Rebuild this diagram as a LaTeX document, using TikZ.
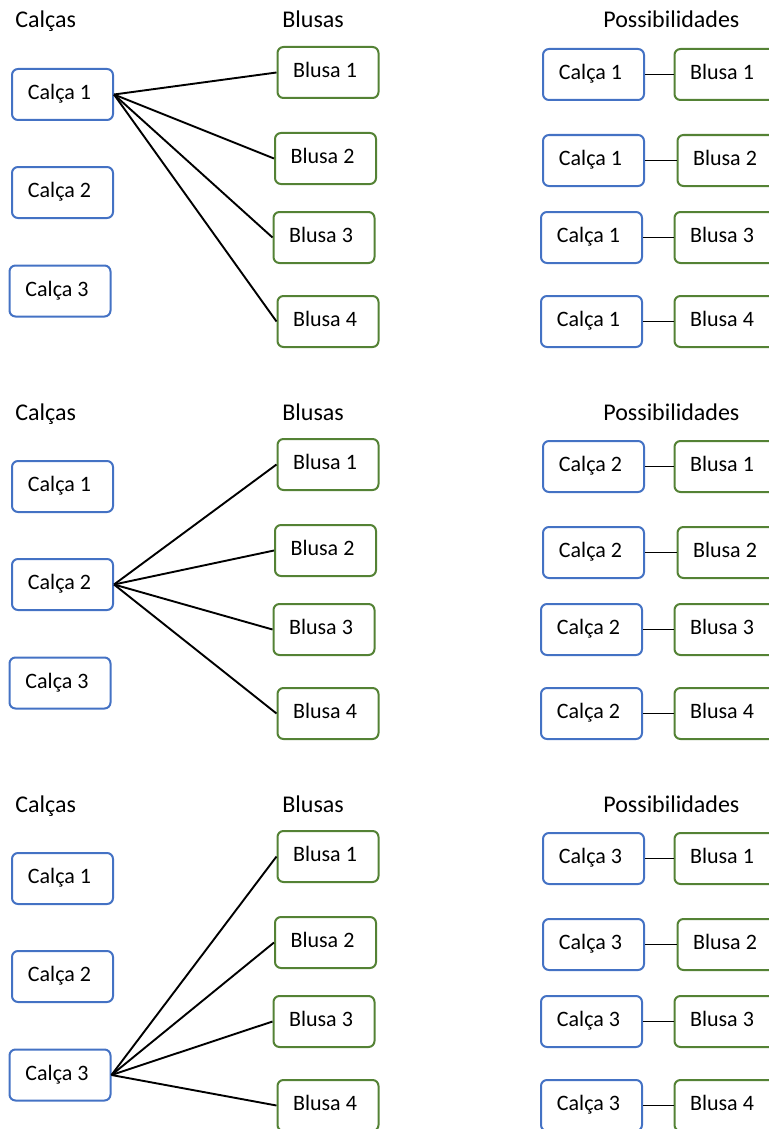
\documentclass[tikz,border=0pt]{standalone}
\usepackage{fontspec}
\setmainfont{Carlito}
\usepackage{tikz}
\usetikzlibrary{positioning}
\definecolor{azul}{HTML}{4472C4}
\definecolor{verde}{HTML}{548235}
\tikzset{
  caixa/.style={shape=rectangle,rounded corners=3pt,line width=1pt,minimum width=50.5pt,minimum height=25.5pt,inner sep=0,
    text height=7.5pt,text depth=2.5pt,execute at end node={\kern3pt},font=\fontsize{11}{13}\selectfont},
  calca/.style={caixa,draw=azul},
  blusa/.style={caixa,draw=verde},
  titulo/.style={anchor=base west,inner sep=0,font=\fontsize{12}{14}\selectfont},
  liga/.style={draw=black,line width=0.95pt}
}

\begin{document}
\begin{tikzpicture}[x=0.5pt,y=-0.5pt]
  \clip (0,0) rectangle (769,1129);
  \foreach \p in {1,2,3}{
    \begin{scope}[shift={(0,{392*(\p-1)})}]
      \node[titulo] (tc\p) at (15,28) {Calças};
      \node[titulo] (tb\p) at (282,28) {Blusas};
      \node[titulo] (tp\p) at (603,28) {Possibilidades};
      % calcas
      \node[calca] (c\p1) at (62.5,94.5) {Calça 1};
      \node[calca] (c\p2) at (62.5,192.5) {Calça 2};
      \node[calca] (c\p3) at (60,291) {Calça 3};
      % blusas
      \foreach \b/\x/\y in {1/328/72.5,2/325.5/158.5,3/324/237.5,4/328/321.5}{
        \node[blusa] (b\p\b) at (\x,\y) {Blusa \b};
        \draw[liga] (c\p\p.east) -- (b\p\b.west);
      }
      % possibilidades
      \foreach \b/\xc/\xb/\y in {1/593.5/725/74.5,2/593.5/728/160.5,3/591.5/725/237.5,4/591.5/725/321.5}{
        \node[calca] (pc\p\b) at (\xc,\y) {Calça \p};
        \node[blusa] (pb\p\b) at (\xb,\y) {Blusa \b};
        \draw[liga] (pc\p\b) -- (pb\p\b);
      }
    \end{scope}
  }
\end{tikzpicture}
\end{document}
